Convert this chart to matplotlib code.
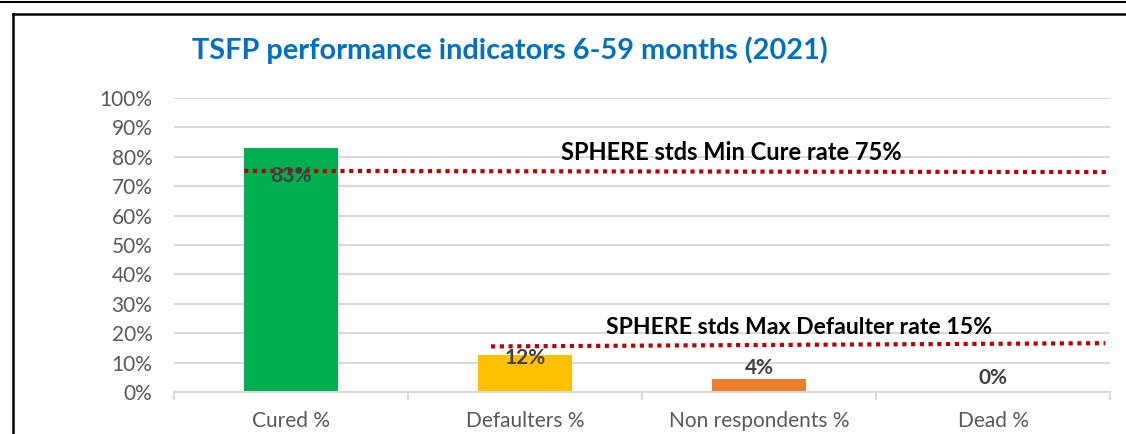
import matplotlib
matplotlib.use("Agg")
import matplotlib.pyplot as plt
from matplotlib.lines import Line2D
from matplotlib.ticker import FuncFormatter, MultipleLocator

plt.rcParams["font.family"] = ["Lato", "DejaVu Sans"]

categories = ["Cured %", "Defaulters %", "Non respondents %", "Dead %"]
values = [0.83, 0.125, 0.044, 0.0]
bar_colors = ["#00B050", "#FFC000", "#ED7D31", "#A5A5A5"]
labels = ["83%", "12%", "4%", "0%"]

title = "TSFP performance indicators 6-59 months (2021)"
cure_text = "SPHERE stds Min Cure rate 75%"
defaulter_text = "SPHERE stds Max Defaulter rate 15%"
cure_rate = [0.752, 0.748]
defaulter_rate = [0.155, 0.166]

GRAY = "#595959"
GRID = "#D9D9D9"
RED = "#C00000"

fig = plt.figure(figsize=(11.26, 4.34), dpi=100)
ax = fig.add_axes([0.1545, 0.0968, 0.8313, 0.6774])

x = range(len(categories))
ax.bar(x, values, width=0.4, color=bar_colors, zorder=2)

# data labels, offsets in points from the bar top
label_offsets = [-20, -2, 8, 10]
for i, (v, lab) in enumerate(zip(values, labels)):
    ax.annotate(lab, (i, v), xytext=(0, label_offsets[i]), textcoords="offset points",
                ha="center", va="center", fontsize=15, fontweight="bold",
                color="#404040", zorder=4)

# standard lines
ax.plot([-0.2, 3.49], cure_rate, color=RED, linewidth=3, linestyle=(0, (1, 1.1)),
        zorder=3, dash_capstyle="butt")
ax.plot([0.855, 3.48], defaulter_rate, color=RED, linewidth=3, linestyle=(0, (1, 1.1)),
        zorder=3, dash_capstyle="butt")
ax.text(1.882, 0.816, cure_text, ha="center", va="center", fontsize=17,
        fontweight="bold", color="black")
ax.text(2.171, 0.221, defaulter_text, ha="center", va="center", fontsize=16.6,
        fontweight="bold", color="black")

ax.set_xlim(-0.5, len(categories) - 0.5)
ax.set_ylim(0, 1.0)
ax.yaxis.set_major_locator(MultipleLocator(0.1))
ax.yaxis.set_major_formatter(FuncFormatter(lambda v, _: f"{v * 100:.0f}%"))
ax.grid(axis="y", color=GRID, linewidth=1.5, zorder=0)
ax.set_axisbelow(True)

for side in ["left", "right", "top"]:
    ax.spines[side].set_visible(False)
ax.spines["bottom"].set_color(GRID)
ax.spines["bottom"].set_linewidth(1.5)

ax.set_xticks([i - 0.5 for i in range(len(categories) + 1)], minor=False)
ax.set_xticklabels([])
ax.set_xticks(list(x), minor=True)
ax.set_xticklabels(categories, minor=True)
ax.tick_params(axis="x", which="major", length=6, width=1.5, color=GRID)
ax.tick_params(axis="x", which="minor", length=0, pad=14, labelsize=15, labelcolor=GRAY)
ax.tick_params(axis="y", length=0, pad=15.5, labelsize=15, labelcolor=GRAY)

fig.text(0.1705, 0.885, title, ha="left", va="center", fontsize=20.8,
         fontweight="bold", color="#0070C0")

# outer frame
fig.add_artist(Line2D([0, 1], [1 - 1.5 / 434, 1 - 1.5 / 434], color="black", linewidth=1.5))
fig.add_artist(Line2D([12.5 / 1126, 1], [1 - 13.5 / 434, 1 - 13.5 / 434], color="black", linewidth=1.8))
fig.add_artist(Line2D([12.5 / 1126, 12.5 / 1126], [0, 1 - 13.5 / 434], color="black", linewidth=1.8))

fig.savefig("out.png", dpi=100)
